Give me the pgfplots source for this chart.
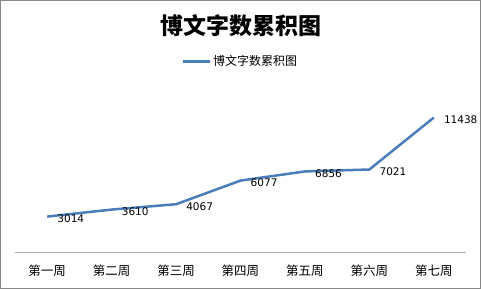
\documentclass[border=0pt]{standalone}
\usepackage{fontspec}
\setmainfont{DejaVu Sans}
\newfontfamily\cjk{Noto Sans CJK SC}
\usepackage{pgfplots}
\pgfplotsset{compat=1.18}
\definecolor{linec}{RGB}{74,126,187}
\definecolor{framec}{RGB}{134,134,134}
\definecolor{axisc}{RGB}{175,175,175}
\begin{document}
\begin{tikzpicture}[x=1pt,y=1pt]
\useasboundingbox (0,0) rectangle (481,289);
\draw[framec, line width=1.2pt] (0.6,0.6) rectangle (480.4,288.4);
\node[font=\cjk\bfseries\fontsize{23}{26}\selectfont] at (240.5,263) {博文字数累积图};
\begin{axis}[
  at={(15pt,37pt)}, anchor=south west,
  width=451pt, height=164.5pt, scale only axis,
  xmin=-0.5, xmax=6.5, ymin=0, ymax=14000,
  hide y axis,
  axis x line*=bottom,
  x axis line style={axisc, line width=0.8pt},
  xtick={0,...,6},
  xticklabels={第一周,第二周,第三周,第四周,第五周,第六周,第七周},
  major tick length=0pt,
  xticklabel style={font=\cjk\fontsize{12.5}{14}\selectfont, yshift=-9pt},
  clip=false,
  /pgf/number format/.cd, 1000 sep={}, assume math mode=true, /pgfplots/.cd,
  legend style={at={(0.5,1)}, anchor=center, yshift=26pt, draw=none,
    font=\cjk\fontsize{12}{14}\selectfont, inner xsep=0pt, nodes={inner xsep=2pt}},
  legend image code/.code={\draw[#1] (0pt,0pt) -- (27pt,0pt);},
]
\addplot[linec, line width=2.5pt, line join=round,
  nodes near coords,
  every node near coord/.append style={anchor=west, xshift=8pt, yshift=-2pt,
    font=\fontsize{10.5}{12}\selectfont, text=black, inner sep=1pt}]
  coordinates {(0,3014)(1,3610)(2,4067)(3,6077)(4,6856)(5,7021)(6,11438)};
\addlegendentry{博文字数累积图}
\end{axis}
\end{tikzpicture}
\end{document}
